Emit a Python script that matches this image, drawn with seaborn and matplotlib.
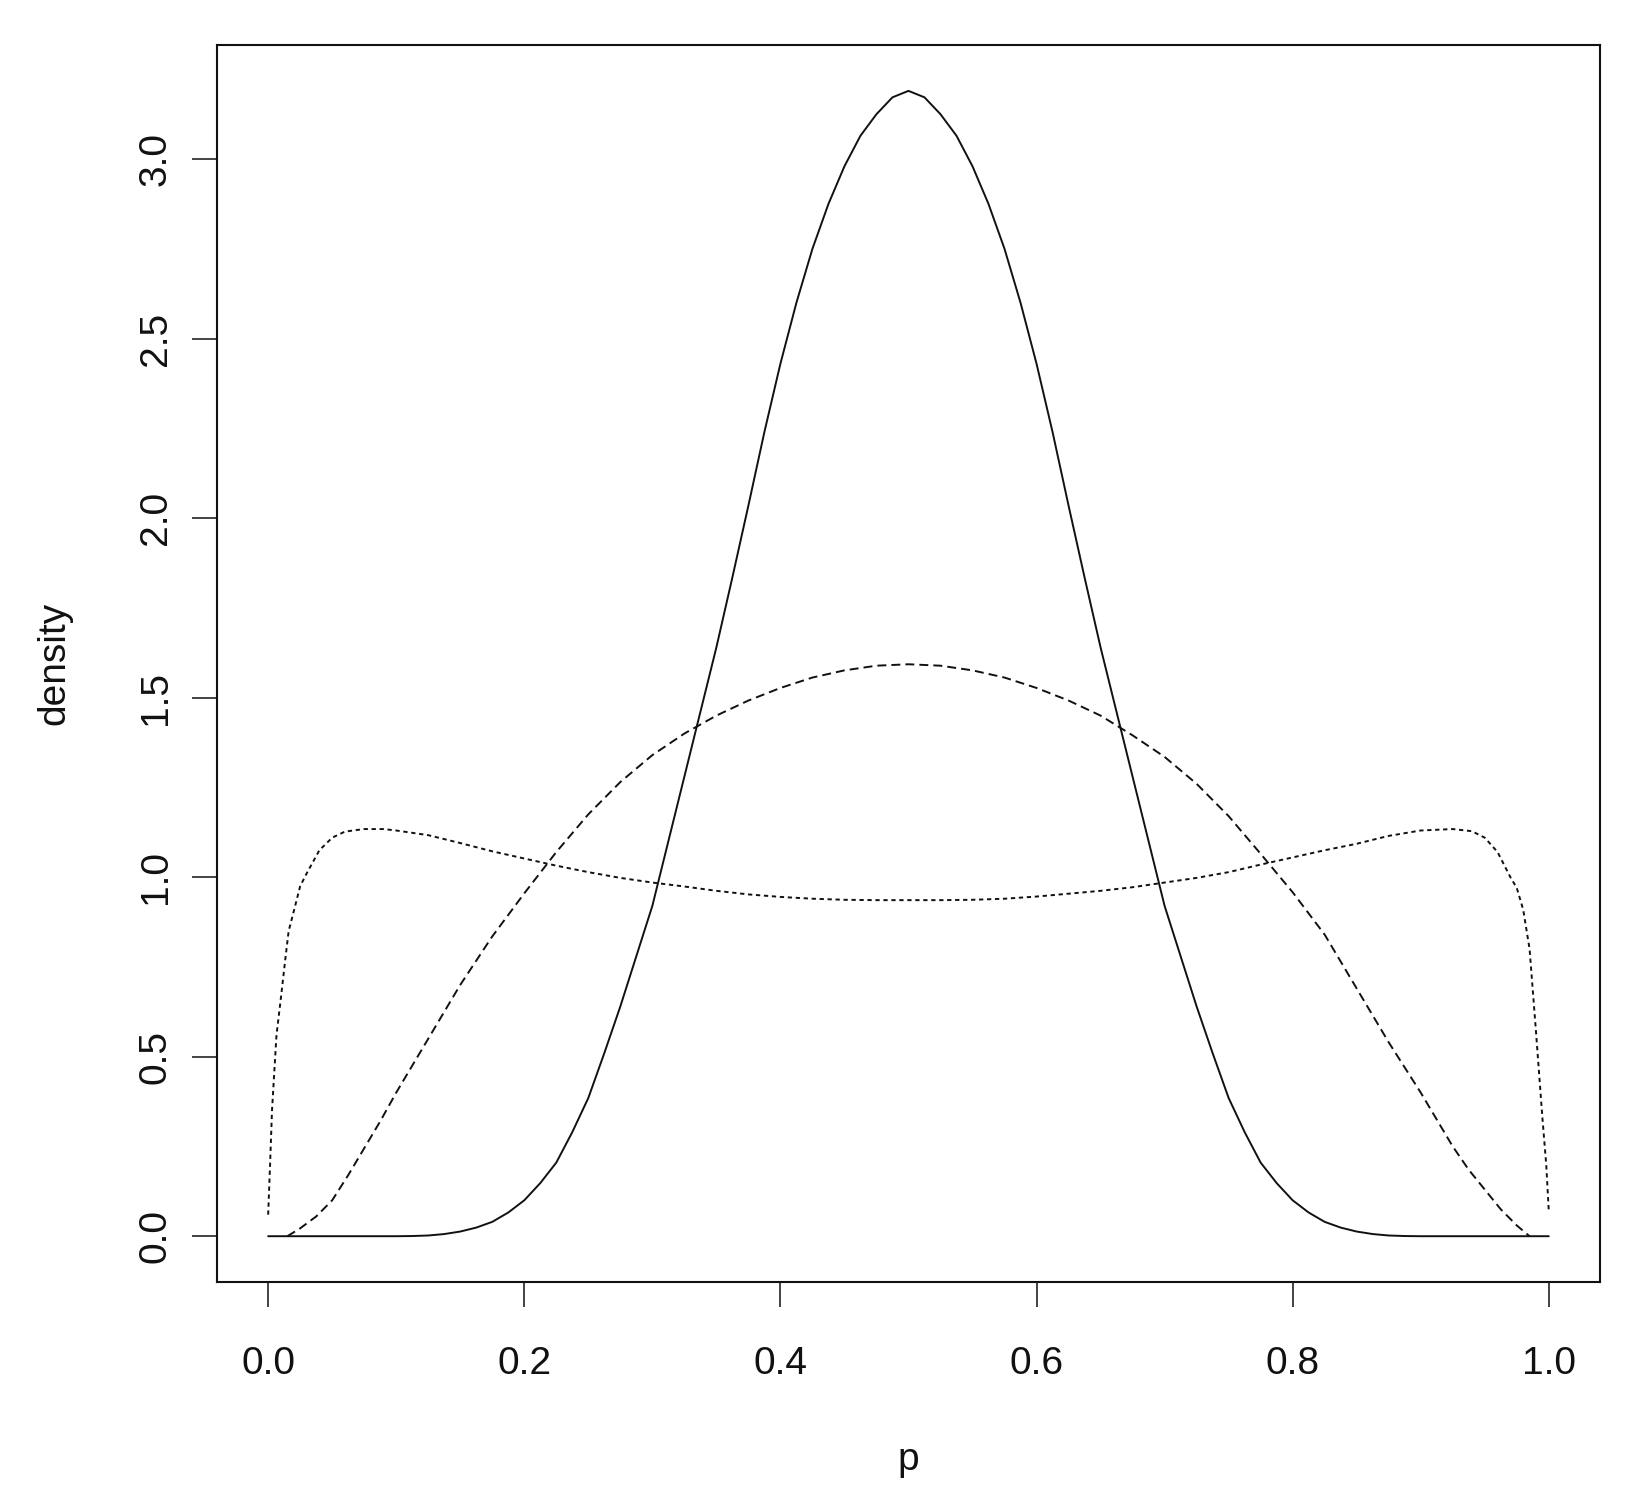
import numpy as np
import pandas as pd
import matplotlib
matplotlib.use("Agg")
import matplotlib.pyplot as plt
import seaborn as sns

# values
solid_p = [0.0, 0.05, 0.10, 0.1125, 0.125, 0.1375, 0.15, 0.1625, 0.175, 0.1875,
           0.20, 0.2125, 0.225, 0.2375, 0.25, 0.2625, 0.275, 0.2875, 0.30, 0.3125,
           0.325, 0.3375, 0.35, 0.3625, 0.375, 0.3875, 0.40, 0.4125, 0.425, 0.4375,
           0.45, 0.4625, 0.475, 0.4875, 0.50, 0.5125, 0.525, 0.5375, 0.55, 0.5625,
           0.575, 0.5875, 0.60, 0.6125, 0.625, 0.6375, 0.65, 0.6625, 0.675, 0.6875,
           0.70, 0.7125, 0.725, 0.7375, 0.75, 0.7625, 0.775, 0.7875, 0.80, 0.8125,
           0.825, 0.8375, 0.85, 0.8625, 0.875, 0.8875, 0.90, 0.95, 1.0]
solid_d = [0, 0, 0, 0.0005, 0.002, 0.006, 0.013, 0.024, 0.040, 0.066,
           0.10, 0.148, 0.205, 0.29, 0.385, 0.51, 0.64, 0.78, 0.92, 1.10,
           1.28, 1.46, 1.64, 1.835, 2.035, 2.24, 2.43, 2.60, 2.75, 2.875,
           2.98, 3.065, 3.125, 3.172, 3.19, 3.172, 3.125, 3.065, 2.98, 2.875,
           2.75, 2.60, 2.43, 2.24, 2.035, 1.835, 1.64, 1.46, 1.28, 1.10,
           0.92, 0.78, 0.64, 0.51, 0.385, 0.29, 0.205, 0.148, 0.10, 0.066,
           0.040, 0.024, 0.013, 0.006, 0.002, 0.0005, 0, 0, 0]

dashed_p = [0.015, 0.025, 0.0375, 0.05, 0.0625, 0.075, 0.0875, 0.10, 0.125, 0.15,
            0.175, 0.20, 0.225, 0.25, 0.275, 0.30, 0.325, 0.35, 0.375, 0.40,
            0.425, 0.45, 0.475, 0.50, 0.525, 0.55, 0.575, 0.60, 0.625, 0.65,
            0.675, 0.70, 0.725, 0.75, 0.775, 0.80, 0.825, 0.85, 0.875, 0.8875,
            0.90, 0.9125, 0.925, 0.9375, 0.95, 0.9625, 0.975, 0.985]
dashed_d = [0.0, 0.022, 0.055, 0.10, 0.17, 0.245, 0.32, 0.40, 0.55, 0.70,
            0.835, 0.955, 1.07, 1.175, 1.265, 1.34, 1.40, 1.45, 1.492, 1.527,
            1.556, 1.576, 1.589, 1.593, 1.589, 1.576, 1.556, 1.527, 1.492, 1.45,
            1.395, 1.335, 1.26, 1.17, 1.065, 0.958, 0.84, 0.69, 0.54, 0.47,
            0.40, 0.325, 0.25, 0.185, 0.13, 0.075, 0.03, 0.0]

dotted_p = [0.0, 0.0015, 0.003, 0.0045, 0.0065, 0.0095, 0.0135, 0.016, 0.02, 0.025,
            0.03, 0.04, 0.05, 0.06, 0.075, 0.09, 0.10, 0.125, 0.15, 0.175, 0.20,
            0.225, 0.25, 0.275, 0.30, 0.325, 0.35, 0.375, 0.40, 0.425, 0.45, 0.475,
            0.50, 0.525, 0.55, 0.575, 0.60, 0.625, 0.65, 0.675, 0.70, 0.725, 0.75,
            0.775, 0.80, 0.825, 0.85, 0.875, 0.90, 0.925, 0.94, 0.95, 0.96, 0.97,
            0.975, 0.98, 0.985, 0.99, 0.995, 0.998, 1.0]
dotted_d = [0.06, 0.20, 0.35, 0.44, 0.56, 0.65, 0.775, 0.85, 0.905, 0.975,
            1.01, 1.075, 1.11, 1.127, 1.134, 1.134, 1.13, 1.117, 1.095, 1.072, 1.052,
            1.032, 1.014, 0.998, 0.985, 0.974, 0.962, 0.952, 0.945, 0.94, 0.937, 0.936,
            0.936, 0.936, 0.937, 0.94, 0.946, 0.954, 0.962, 0.972, 0.985, 0.998, 1.014,
            1.035, 1.055, 1.075, 1.093, 1.115, 1.13, 1.134, 1.128, 1.11, 1.07, 1.00,
            0.97, 0.91, 0.80, 0.57, 0.33, 0.20, 0.07]

x_ticks = [0.0, 0.2, 0.4, 0.6, 0.8, 1.0]
x_labels = ["0.0", "0.2", "0.4", "0.6", "0.8", "1.0"]
y_ticks = [0.0, 0.5, 1.0, 1.5, 2.0, 2.5, 3.0]
y_labels = ["0.0", "0.5", "1.0", "1.5", "2.0", "2.5", "3.0"]

sns.set_style("white")
plt.rcParams['font.family'] = ['Liberation Sans', 'DejaVu Sans']

fig = plt.figure(figsize=(16.36, 15.12), dpi=100)
ax = fig.add_axes([0.1326, 0.1521, 0.8454, 0.8181])

lw = 1.4
ink = "#111111"
sns.lineplot(x=solid_p, y=solid_d, ax=ax, color=ink, linewidth=lw, sort=False)
sns.lineplot(x=dashed_p, y=dashed_d, ax=ax, color=ink, linewidth=lw, sort=False)
ax.lines[-1].set_dashes([4.6, 2.6])
sns.lineplot(x=dotted_p, y=dotted_d, ax=ax, color=ink, linewidth=lw, sort=False)
ax.lines[-1].set_dashes([2.2, 1.9])

ax.set_xlim(-0.04, 1.04)
ax.set_ylim(-0.1276, 3.3176)

ax.set_xticks(x_ticks, labels=x_labels)
ax.set_yticks(y_ticks, labels=y_labels)
ax.tick_params(axis='both', direction='out', length=18, width=1.1, color=ink,
               labelsize=28, labelcolor=ink, bottom=True, left=True)
ax.tick_params(axis='x', pad=28)
ax.tick_params(axis='y', pad=13)
plt.setp(ax.get_yticklabels(), rotation=90, va='center', ha='right')

for s in ax.spines.values():
    s.set_visible(True)
    s.set_color(ink)
    s.set_linewidth(1.5)

ax.set_xlabel("p", fontsize=28, color=ink, va='center')
ax.xaxis.set_label_coords(0.5, -0.144)
ax.set_ylabel("density", fontsize=28, color=ink, va='center', ha='center')
ax.yaxis.set_label_coords(-0.1175, 0.5)

fig.savefig("out.png", dpi=100, facecolor="white")
